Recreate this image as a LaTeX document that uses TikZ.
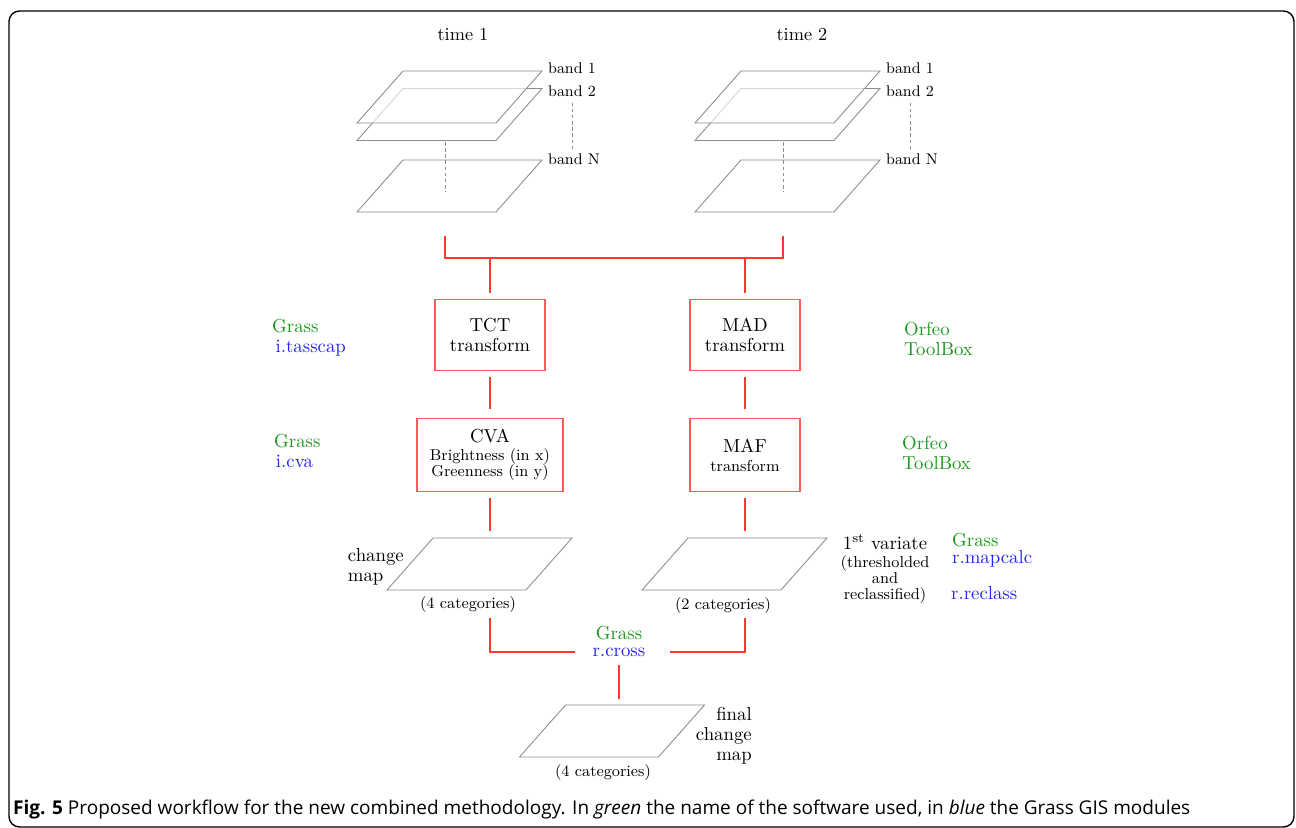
\documentclass[tikz,border=0pt]{standalone}
\usepackage{fontspec}
\usepackage{xcolor}
\usetikzlibrary{positioning}
\newfontfamily\capfont{Open Sans}
\definecolor{grassgreen}{RGB}{30,150,30}
\definecolor{modblue}{RGB}{35,35,245}
\definecolor{linkred}{RGB}{255,55,55}
\definecolor{boxred}{RGB}{255,90,90}
\definecolor{planegray}{RGB}{140,140,140}

\begin{document}
\begin{tikzpicture}[
  x=0.02cm, y=-0.02cm,
  every node/.style={font=\fontsize{10.7}{11.4}\selectfont},
  planeline/.style={draw=planegray, line width=0.5pt},
  plane/.style={minimum width=2.78cm, minimum height=1.04cm, inner sep=0pt, outer sep=0pt,
    append after command={\pgfextra{\draw[planeline,#1]
      ([xshift=0.46cm]\tikzlastnode.north west) -- ([xshift=0.46cm]\tikzlastnode.north east)
      -- ([xshift=-0.46cm]\tikzlastnode.south east) -- ([xshift=-0.46cm]\tikzlastnode.south west) -- cycle;}}},
  plane/.default={},
  seethrough/.style={fill=white, fill opacity=0.65},
  bandlabel/.style={anchor=west, font=\fontsize{8.8}{10}\selectfont},
  catlabel/.style={font=\fontsize{9}{10}\selectfont},
  stepbox/.style={draw=boxred, line width=0.8pt, align=center, minimum width=2.2cm, inner sep=2pt},
  soft/.style={align=left, anchor=west},
  link/.style={draw=linkred, line width=1.7pt},
  guide/.style={draw=planegray, dashed, line width=0.4pt, dash pattern=on 2pt off 1.5pt}
]

\useasboundingbox (0,0) rectangle (1296,828);
\draw[line width=0.8pt, rounded corners=6pt] (9,11) rectangle (1294,827);

% Nodes for the two acquisitions
\node (time1) at (463,35) {\fontsize{10.4}{12}\selectfont time 1};
\node (time2) at (802,35) {\fontsize{10.4}{12}\selectfont time 2};

\node[plane] (L2) at (449.5,114.5) {};
\node[plane=seethrough] (L1) at (449.5,97) {};
\node[plane] (LN) at (449.5,186) {};
\node[plane] (R2) at (787.5,114.5) {};
\node[plane=seethrough] (R1) at (787.5,97) {};
\node[plane] (RN) at (787.5,186) {};

\node[bandlabel] (b1L) at (542,68) {band 1};
\node[bandlabel] (b2L) at (542,91) {band 2};
\node[bandlabel] (bNL) at (542,159) {band N};
\node[bandlabel] (b1R) at (880,68) {band 1};
\node[bandlabel] (b2R) at (880,91) {band 2};
\node[bandlabel] (bNR) at (880,159) {band N};

% dashed guides between the bands
\coordinate (axisL) at (445,142);
\coordinate (axisR) at (783,142);
\draw[guide] (axisL) -- ++(0,50);
\draw[guide] (axisR) -- ++(0,50);
\draw[guide] (b2L.south -| 572,0) -- ++(0,48);
\draw[guide] (b2R.south -| 910,0) -- ++(0,48);

% Nodes for the processing steps
\node[stepbox, minimum height=1.42cm] (tct) at (490,335) {TCT\\transform};
\node[stepbox, minimum height=1.42cm] (mad) at (745,335) {MAD\\transform};
\node[stepbox, minimum width=2.92cm, minimum height=1.46cm] (cva) at (490,455) {CVA\\[-1pt]{\fontsize{9}{9.2}\selectfont Brightness (in x)}\\[-2.3pt]{\fontsize{9}{9.2}\selectfont Greenness (in y)}};
\node[stepbox, minimum height=1.46cm] (maf) at (745,455) {MAF\\[-0.6pt]{\fontsize{9}{9.2}\selectfont transform}};

% Software and modules
\node[soft] (swTct) at (266,338) {{\color{grassgreen}Grass}\\\hspace{2pt}{\color{modblue}i.tasscap}};
\node[soft] (swCva) at (268,451) {{\color{grassgreen}Grass}\\\hspace{1pt}{\color{modblue}i.cva}};
\node[soft, text=grassgreen] (swMad) at (898,339) {Orfeo\\ToolBox};
\node[soft, text=grassgreen] (swMaf) at (896,453) {Orfeo\\ToolBox};

% Nodes for the change maps
\node[plane] (chg) at (479.5,564) {};
\node[anchor=east, align=left] (chgL) at (410,567) {change\\map};
\node[catlabel] (cat1) at (468,605) {(4 categories)};

\node[plane] (thr) at (734.5,564) {};
\node[catlabel] (cat2) at (723,606) {(2 categories)};
\node[align=center] (varL) at (885,569) {1\textsuperscript{st} variate\\[-1pt]{\fontsize{9}{9.1}\selectfont (thresholded}\\[-2.3pt]{\fontsize{9}{9.1}\selectfont and}\\[-2.3pt]{\fontsize{9}{9.1}\selectfont reclassified)}};
\node[soft] (swThr) at (946,550) {{\color{grassgreen}Grass}\\[-2pt]{\color{modblue}r.mapcalc}};
\node[soft, text=modblue] (swRec) at (945,593) {r.reclass};

\node[text=grassgreen] (grCross) at (619,633) {Grass};
\node[text=modblue, inner sep=2pt] (rcross) at (619,652) {r.cross};

\node[plane] (fin) at (612,731) {};
\node[anchor=east, align=right] (finL) at (758,736) {final\\change\\map};
\node[catlabel] (cat3) at (603,773) {(4 categories)};

% Red links of the workflow
\coordinate (hub) at (613,258);
\draw[link, shorten <=13.6pt, shorten >=13.6pt] (LN.south -| axisL) |- (hub) -| (RN.south -| axisR);
\draw[link, shorten >=3.4pt] (tct.north |- hub) -- (tct.north);
\draw[link, shorten >=3.4pt] (mad.north |- hub) -- (mad.north);
\draw[link, shorten <=3.4pt, shorten >=5pt] (tct.south) -- (cva.north);
\draw[link, shorten <=3.4pt, shorten >=5pt] (mad.south) -- (maf.north);
\draw[link, shorten <=3.4pt, shorten >=4pt] (cva.south) -- (cva.south |- chg.north);
\draw[link, shorten <=3.4pt, shorten >=4pt] (maf.south) -- (maf.south |- thr.north);
\draw[link, shorten <=15.9pt, shorten >=8pt] (chg.south -| cva.south) |- (rcross.west);
\draw[link, shorten <=15.9pt, shorten >=12pt] (thr.south -| maf.south) |- (rcross.east);
\draw[link, shorten <=3pt, shorten >=3.4pt] (rcross.south) -- (rcross.south |- fin.north);

% Caption
\node[anchor=west, font=\capfont\fontsize{10.82}{12}\selectfont] (caption) at (7,810) {\textbf{Fig. 5} Proposed workflow for the new combined methodology. In \textit{green} the name of the software used, in \textit{blue} the Grass GIS modules};

\end{tikzpicture}
\end{document}
